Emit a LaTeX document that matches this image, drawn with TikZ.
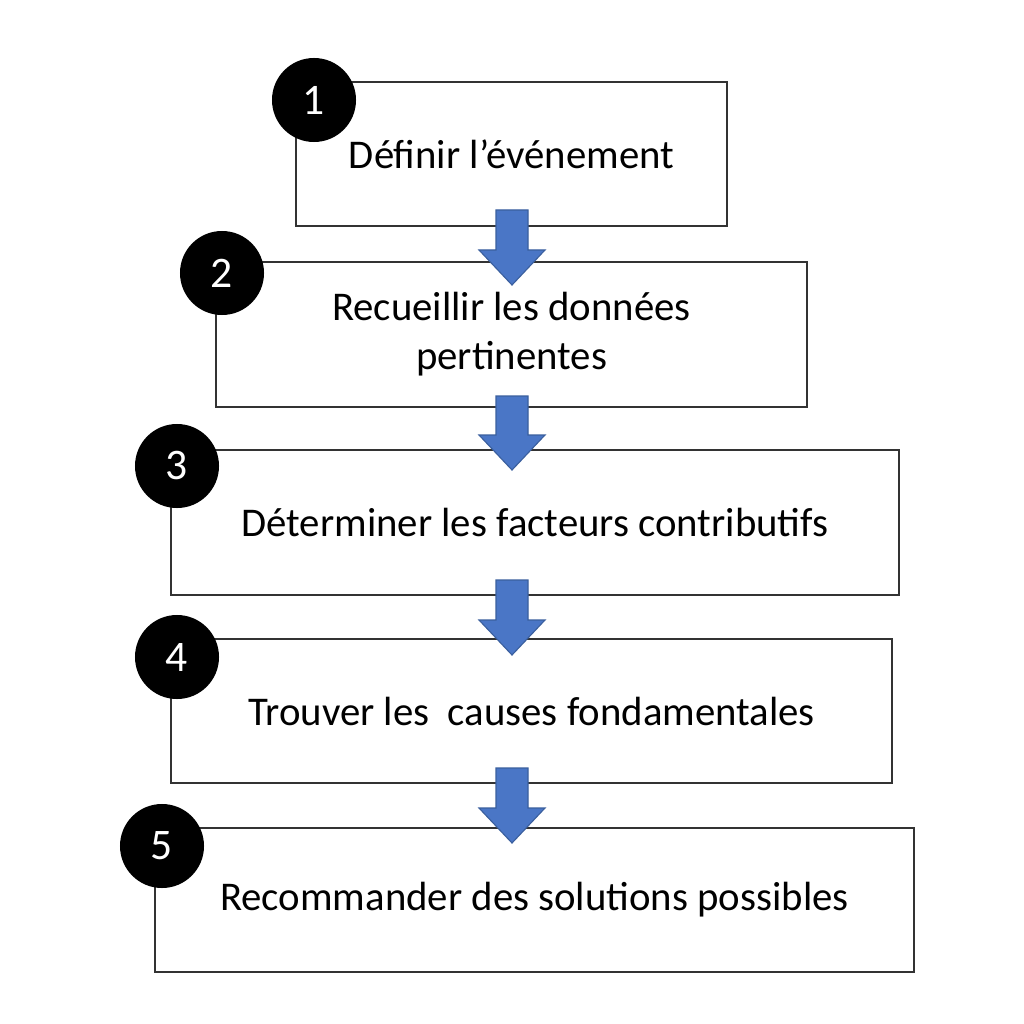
\documentclass[tikz,border=0pt]{standalone}
\usepackage{fontspec}
\setmainfont{Carlito}
\usetikzlibrary{calc}
\begin{document}
\begin{tikzpicture}[x=0.025cm,y=-0.025cm,
  box/.style={draw=black!80,line width=1pt,inner sep=0pt,font=\fontsize{29}{35}\selectfont,align=center},
  num/.style={circle,fill=black,minimum size=2.1cm,inner sep=0pt,text=white,font=\fontsize{31}{31}\selectfont},
  barrow/.style={fill=blue!55!cyan!70!black!90,fill=arrowblue,draw=arrowedge,line width=0.8pt}]
\definecolor{arrowblue}{HTML}{4A76C6}
\definecolor{arrowedge}{HTML}{3A5F9E}
\useasboundingbox (0,0) rectangle (1024,1024);
\fill[white] (0,0) rectangle (1024,1024);
\newcommand\boxat[6]{\node[box,minimum width=#3*0.025cm,minimum height=#4*0.025cm] (#1) at (#2) {#6};}
\boxat{b1}{511.5,154}{431}{144}{}{Définir l’événement}
\boxat{b2}{511.5,334.5}{591}{145}{}{Recueillir les données\\pertinentes}
\boxat{b3}{535,522.5}{728}{145}{}{Déterminer les facteurs contributifs}
\boxat{b4}{531.5,711}{721}{144}{}{Trouver les\ \ causes fondamentales}
\boxat{b5}{534.5,900}{759}{144}{}{Recommander des solutions possibles}
\newcommand\barr[2]{\draw[barrow] (496,#1) -- (528,#1) -- (528,#2-35) -- (545,#2-35) -- (512,#2) -- (479,#2-35) -- (496,#2-35) -- cycle;}
\barr{210}{285}
\barr{396}{470}
\barr{580}{655}
\barr{768}{843}
\node[num] (n1) at (314,100) {1};
\node[num] (n2) at (222,273) {2};
\node[num] (n3) at (177,466) {3};
\node[num] (n4) at (177,657) {4};
\node[num] (n5) at (162,846) {5};
\end{tikzpicture}
\end{document}
